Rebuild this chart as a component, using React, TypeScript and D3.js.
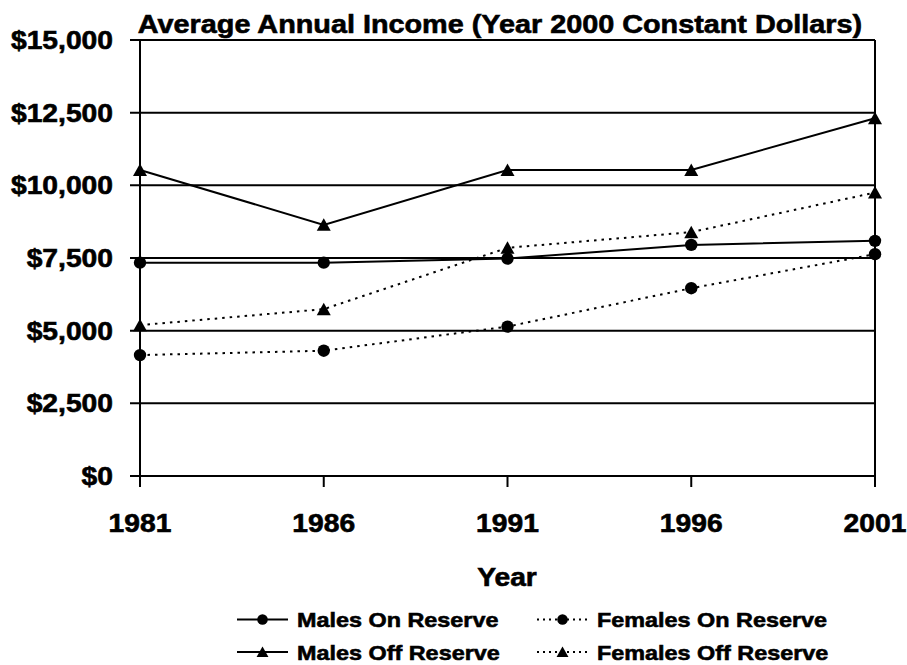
import * as d3 from 'd3';

const years = ['1981', '1986', '1991', '1996', '2001'];
const malesOnReserve = [7340, 7340, 7480, 7950, 8090];
const femalesOnReserve = [4160, 4310, 5140, 6460, 7630];
const malesOffReserve = [10530, 8640, 10530, 10530, 12310];
const femalesOffReserve = [5190, 5740, 7850, 8390, 9750];
const yTicks = [0, 2500, 5000, 7500, 10000, 12500, 15000];

const W = 907;
const H = 665;
const M = { top: 40, right: 32, bottom: 189, left: 140 };
const SX = 1.13; // the source text is a bit wide
const FONT = '"Liberation Sans", Arial, sans-serif';

type Series = { name: string; values: number[]; dotted: boolean; marker: 'circle' | 'triangle' };

const series: Series[] = [
  { name: 'Males On Reserve', values: malesOnReserve, dotted: false, marker: 'circle' },
  { name: 'Females On Reserve', values: femalesOnReserve, dotted: true, marker: 'circle' },
  { name: 'Males Off Reserve', values: malesOffReserve, dotted: false, marker: 'triangle' },
  { name: 'Females Off Reserve', values: femalesOffReserve, dotted: true, marker: 'triangle' },
];

function Txt({ x, y, size, anchor = 'start', children }: { x: number; y: number; size: number; anchor?: string; children: any }) {
  return (
    <text
      transform={`translate(${x},${y}) scale(${SX},1)`}
      textAnchor={anchor}
      fontSize={size}
      fontWeight="bold"
      fontFamily={FONT}
      fill="#000"
      stroke="#000"
      strokeWidth={0.6}
    >
      {children}
    </text>
  );
}

function Marker({ type, x, y, s = 1 }: { type: string; x: number; y: number; s?: number }) {
  if (type === 'circle') return <circle cx={x} cy={y} r={6.2 * s} fill="#000" />;
  const d = `M${x},${y - 6.5 * s}L${x + 7 * s},${y + 6 * s}L${x - 7 * s},${y + 6 * s}Z`;
  return <path d={d} fill="#000" />;
}

export default function App() {
  const x = d3.scalePoint<string>().domain(years).range([M.left, W - M.right]);
  const y = d3.scaleLinear().domain([0, 15000]).range([H - M.bottom, M.top]);
  const line = d3
    .line<number>()
    .x((_, i) => x(years[i]) as number)
    .y(v => y(v));

  const x0 = M.left;
  const x1 = W - M.right;
  const yBottom = y(0);

  const legendRows = [
    { y: 619.5, items: [series[0], series[1]] },
    { y: 652, items: [series[2], series[3]] },
  ];
  const legendCols = [237, 537];

  return (
    <svg
      width={W}
      height={H}
      style={{ position: 'absolute', left: 0, top: 0, background: '#fff' }}
    >
      {/* gridlines + left ticks */}
      {yTicks.map(t => (
        <line key={t} x1={x0 - 10} x2={x1} y1={y(t)} y2={y(t)} stroke="#000" strokeWidth={2} />
      ))}
      {/* axes */}
      <line x1={x0} x2={x0} y1={y(15000)} y2={yBottom + 11} stroke="#000" strokeWidth={2} />
      <line x1={x1} x2={x1} y1={y(15000)} y2={yBottom + 11} stroke="#000" strokeWidth={2} />
      {years.map(yr => (
        <line key={yr} x1={x(yr)} x2={x(yr)} y1={yBottom} y2={yBottom + 11} stroke="#000" strokeWidth={2} />
      ))}

      {/* series */}
      {series.map(s => (
        <g key={s.name}>
          <path
            d={line(s.values) ?? ''}
            fill="none"
            stroke="#000"
            strokeWidth={2}
            strokeDasharray={s.dotted ? '2.5 5' : undefined}
          />
          {s.values.map((v, i) => (
            <Marker key={i} type={s.marker} x={x(years[i]) as number} y={y(v)} />
          ))}
        </g>
      ))}

      {/* tick labels */}
      {yTicks.map(t => (
        <Txt key={t} x={113} y={y(t) + 9} size={25} anchor="end">
          {'$' + d3.format(',')(t)}
        </Txt>
      ))}
      {years.map(yr => (
        <Txt key={yr} x={x(yr) as number} y={532} size={25} anchor="middle">
          {yr}
        </Txt>
      ))}

      <Txt x={500} y={33} size={25.5} anchor="middle">
        Average Annual Income (Year 2000 Constant Dollars)
      </Txt>
      <Txt x={507} y={586} size={25} anchor="middle">
        Year
      </Txt>

      {/* legend */}
      {legendRows.map(row =>
        row.items.map((s, ci) => {
          const lx = legendCols[ci];
          return (
            <g key={s.name}>
              <line
                x1={lx}
                x2={lx + 51}
                y1={row.y}
                y2={row.y}
                stroke="#000"
                strokeWidth={2}
                strokeDasharray={s.dotted ? '2 4' : undefined}
              />
              <Marker type={s.marker} x={lx + 25.5} y={row.y} s={0.85} />
              <Txt x={lx + 60} y={row.y + 7.5} size={20.7}>
                {s.name}
              </Txt>
            </g>
          );
        }),
      )}
    </svg>
  );
}
